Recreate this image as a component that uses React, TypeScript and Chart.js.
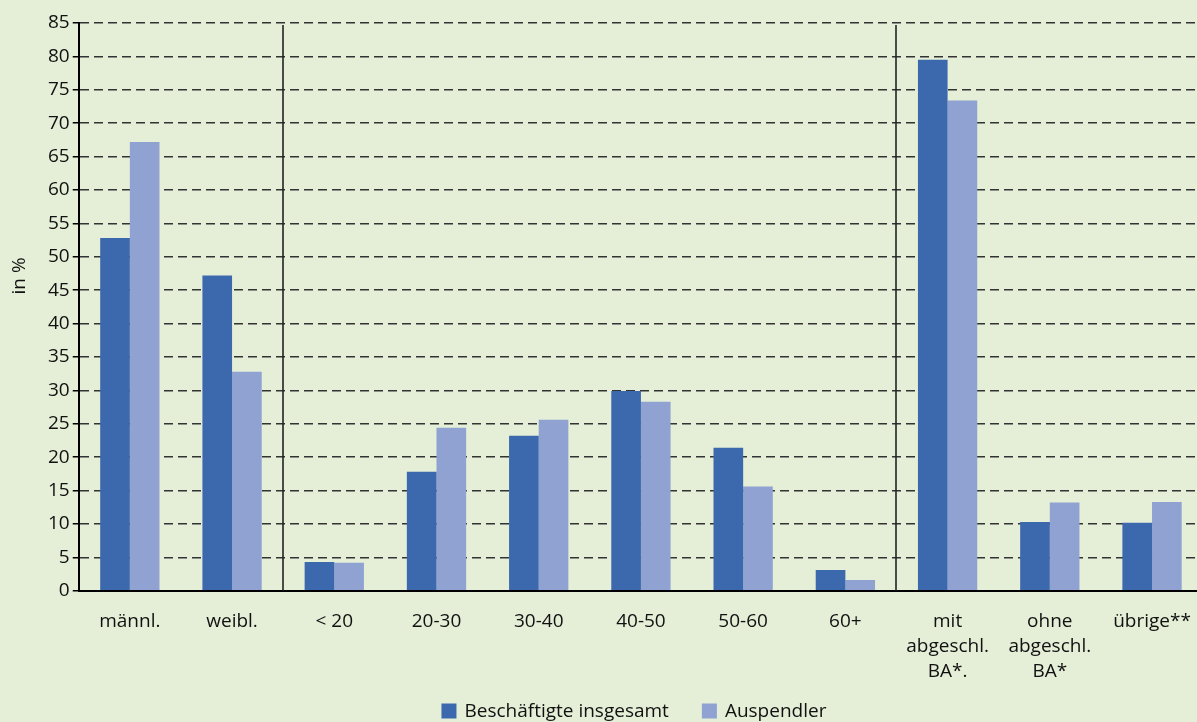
import React, { useEffect, useRef } from "react";
import { Chart, registerables } from "chart.js";

Chart.register(...registerables);

const categories: string[][] = [
  ["männl."],
  ["weibl."],
  ["< 20"],
  ["20-30"],
  ["30-40"],
  ["40-50"],
  ["50-60"],
  ["60+"],
  ["mit", "abgeschl.", "BA*."],
  ["ohne", "abgeschl.", "BA*"],
  ["übrige**"],
];

const beschaeftigte = [52.8, 47.2, 4.3, 17.8, 23.2, 29.9, 21.4, 3.1, 79.5, 10.3, 10.2];
const auspendler = [67.2, 32.8, 4.2, 24.4, 25.6, 28.3, 15.6, 1.6, 73.4, 13.2, 13.3];

const seriesNames = ["Beschäftigte insgesamt", "Auspendler"];
const seriesColors = ["#3C68AD", "#8FA2D2"];
const separatorsAfter = [1, 7];
const yTitle = "in %";

const FONT = "'Open Sans', sans-serif";
const FS = 19;

const separatorPlugin = {
  id: "separators",
  beforeDatasetsDraw(chart: any) {
    const { ctx, chartArea, scales } = chart;
    const x = scales.x;
    ctx.save();
    ctx.strokeStyle = "#222";
    ctx.lineWidth = 1.6;
    separatorsAfter.forEach((i) => {
      const px = Math.round((x.getPixelForValue(i) + x.getPixelForValue(i + 1)) / 2);
      ctx.beginPath();
      ctx.moveTo(px, chartArea.top + 2);
      ctx.lineTo(px, chartArea.bottom);
      ctx.stroke();
    });
    ctx.restore();
  },
};

const legendAndTitlePlugin = {
  id: "legendAndTitle",
  afterDraw(chart: any) {
    const { ctx, chartArea } = chart;
    ctx.save();
    ctx.font = `${FS}px ${FONT}`;
    ctx.fillStyle = "#111";
    ctx.textBaseline = "middle";
    // y-axis title
    ctx.save();
    ctx.translate(20, (chartArea.top + chartArea.bottom) / 2 - 31);
    ctx.rotate(-Math.PI / 2);
    ctx.textAlign = "center";
    ctx.fillText(yTitle, 0, 0);
    ctx.restore();
    // legend
    const box = 15;
    const gapText = 8;
    const gapItem = 33;
    const widths = seriesNames.map((n) => ctx.measureText(n).width);
    const total =
      widths.reduce((a: number, w: number) => a + box + gapText + w, 0) + gapItem * (seriesNames.length - 1);
    let x = (chartArea.left + chartArea.right) / 2 - 7 - total / 2;
    const y = chart.height - 11;
    ctx.textAlign = "left";
    seriesNames.forEach((n, i) => {
      ctx.fillStyle = seriesColors[i];
      ctx.fillRect(x, y - box / 2, box, box);
      x += box + gapText;
      ctx.fillStyle = "#111";
      ctx.fillText(n, x, y + 1);
      x += widths[i] + gapItem;
    });
    ctx.restore();
  },
};

export default function App() {
  const ref = useRef<HTMLCanvasElement>(null);
  useEffect(() => {
    if (!ref.current) return;
    const chart = new Chart(ref.current, {
      type: "bar",
      data: {
        labels: categories,
        datasets: [
          {
            label: seriesNames[0],
            data: beschaeftigte,
            backgroundColor: seriesColors[0],
            categoryPercentage: 0.58,
            barPercentage: 1,
          },
          {
            label: seriesNames[1],
            data: auspendler,
            backgroundColor: seriesColors[1],
            categoryPercentage: 0.58,
            barPercentage: 1,
          },
        ],
      },
      plugins: [separatorPlugin, legendAndTitlePlugin],
      options: {
        animation: false,
        responsive: true,
        maintainAspectRatio: false,
        layout: { padding: { top: 23, left: 45, right: 2, bottom: 20 } },
        plugins: {
          tooltip: { enabled: false },
          legend: { display: false },
        },
        scales: {
          x: {
            grid: { display: false, drawTicks: false },
            border: { display: true, color: "#000", width: 2 },
            ticks: {
              color: "#111",
              font: { family: FONT, size: FS, lineHeight: 1.32 },
              padding: 18,
              maxRotation: 0,
              autoSkip: false,
            },
          },
          y: {
            min: 0,
            max: 85,
            ticks: {
              stepSize: 5,
              color: "#111",
              font: { family: FONT, size: FS },
              padding: 3,
            },
            grid: {
              color: (c: any) => (c.tick && c.tick.value === 0 ? "rgba(0,0,0,0)" : "#333"),
              lineWidth: 1.5,
              tickColor: "#000",
              tickLength: 6,
              tickBorderDash: [],
            },
            border: { display: true, color: "#000", width: 2, dash: [9, 5] },
          },
        },
      },
    });
    return () => chart.destroy();
  }, []);
  return (
    <div
      style={{
        position: "fixed",
        left: 0,
        top: 0,
        width: "100vw",
        height: "100vh",
        overflow: "hidden",
        background: "#E5EED6",
      }}
    >
      <div style={{ position: "absolute", left: 0, top: 0, width: 1209, height: 722 }}>
        <canvas ref={ref} />
      </div>
    </div>
  );
}
